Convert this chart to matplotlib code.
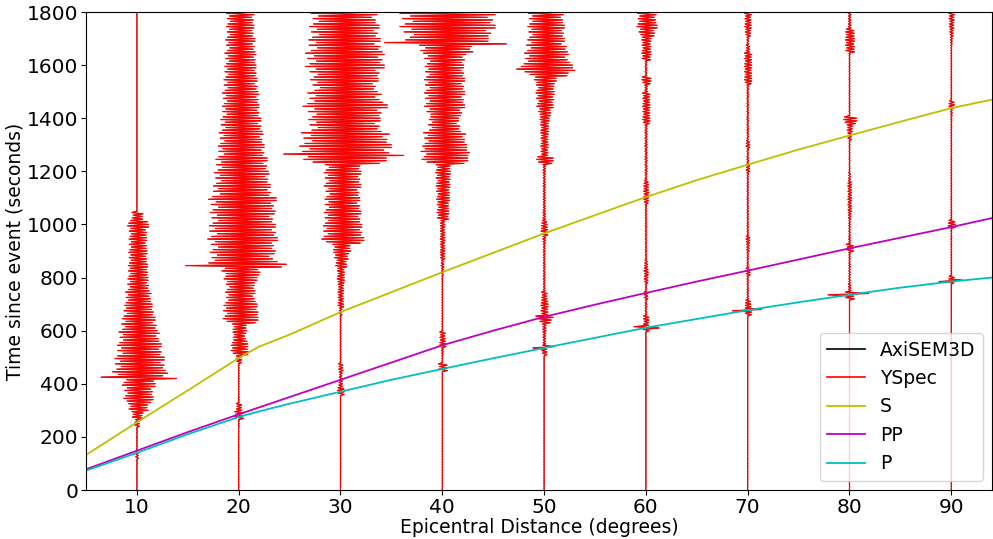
import numpy as np
import matplotlib.pyplot as plt

# station distances (degrees)
distances = [10, 20, 30, 40, 50, 60, 70, 80, 90]

# half-width of each trace (degrees), one value per 30 s window, 0-1800 s
bin_width = 30
env_10 = [0.02, 0.02, 0.02, 0.03, 0.15, 0.05, 0.04, 0.05, 0.25, 0.6,
          1.1, 1.6, 1.6, 1.8, 3.0, 2.8, 2.7, 2.5, 2.4, 2.2,
          2.0, 1.8, 1.7, 1.5, 1.4, 1.2, 1.1, 1.1, 1.05, 1.0,
          1.0, 0.95, 1.0, 1.15, 0.6, 0.02, 0.02, 0.02, 0.02, 0.02,
          0.02, 0.02, 0.02, 0.02, 0.02, 0.02, 0.02, 0.02, 0.02, 0.02,
          0.02, 0.02, 0.02, 0.02, 0.02, 0.02, 0.02, 0.02, 0.02, 0.02]
env_20 = [0.02, 0.02, 0.02, 0.02, 0.02, 0.02, 0.02, 0.02, 0.05, 0.5,
          0.3, 0.05, 0.04, 0.04, 0.05, 0.05, 0.3, 1.0, 0.9, 0.7,
          0.8, 1.9, 2.0, 1.8, 1.6, 1.6, 1.8, 2.2, 4.2, 3.5,
          3.6, 3.8, 3.8, 3.6, 3.5, 3.6, 3.7, 3.3, 3.1, 3.0,
          2.9, 2.8, 2.6, 2.5, 2.4, 2.3, 2.2, 2.1, 2.0, 2.0,
          1.9, 1.8, 1.8, 1.7, 1.7, 1.6, 1.6, 1.5, 1.5, 1.5]
env_30 = [0.02, 0.02, 0.02, 0.02, 0.02, 0.02, 0.02, 0.02, 0.02, 0.02,
          0.02, 0.02, 0.4, 0.2, 0.15, 0.25, 0.05, 0.05, 0.05, 0.05,
          0.05, 0.05, 0.15, 0.3, 0.3, 0.3, 0.4, 0.4, 0.6, 0.8,
          1.0, 2.3, 2.2, 2.1, 2.0, 2.0, 1.9, 1.9, 2.0, 2.0,
          2.0, 4.5, 5.0, 5.0, 4.8, 4.0, 3.9, 4.2, 4.6, 4.0,
          3.6, 3.7, 4.0, 4.3, 4.3, 4.1, 3.9, 3.8, 3.8, 3.6]
env_40 = [0.02, 0.02, 0.02, 0.02, 0.02, 0.02, 0.02, 0.02, 0.02, 0.02,
          0.02, 0.02, 0.02, 0.02, 0.02, 0.5, 0.05, 0.1, 0.35, 0.3,
          0.05, 0.04, 0.04, 0.04, 0.04, 0.04, 0.04, 0.1, 0.15, 0.25,
          0.25, 0.25, 0.25, 0.25, 0.65, 0.65, 0.7, 0.75, 0.75, 0.8,
          0.8, 2.5, 2.8, 2.4, 2.3, 1.8, 1.6, 2.0, 2.2, 2.2,
          2.2, 2.2, 2.2, 2.1, 2.3, 3.0, 4.5, 5.0, 5.2, 5.2]
env_50 = [0.02, 0.02, 0.02, 0.02, 0.02, 0.02, 0.02, 0.02, 0.02, 0.02,
          0.02, 0.02, 0.02, 0.02, 0.02, 0.02, 0.02, 0.3, 0.15, 0.15,
          0.2, 0.7, 0.4, 0.4, 0.3, 0.1, 0.1, 0.1, 0.1, 0.1,
          0.1, 0.15, 0.4, 0.3, 0.15, 0.12, 0.12, 0.12, 0.12, 0.12,
          0.15, 0.9, 0.4, 0.4, 0.4, 0.45, 0.5, 0.7, 0.9, 1.0,
          1.0, 1.2, 2.5, 2.8, 2.4, 2.3, 2.0, 2.0, 2.0, 1.9]
env_60 = [0.02, 0.02, 0.02, 0.02, 0.02, 0.02, 0.02, 0.02, 0.02, 0.02,
          0.02, 0.02, 0.02, 0.02, 0.02, 0.02, 0.02, 0.02, 0.02, 0.02,
          0.3, 0.3, 0.1, 0.1, 0.2, 0.08, 0.2, 0.25, 0.15, 0.08,
          0.08, 0.08, 0.08, 0.08, 0.08, 0.08, 0.25, 0.3, 0.25, 0.1,
          0.12, 0.12, 0.12, 0.12, 0.12, 0.12, 0.4, 0.4, 0.4, 0.4,
          0.15, 0.5, 0.1, 0.1, 0.5, 0.5, 0.5, 0.9, 1.1, 1.0]
env_70 = [0.02, 0.02, 0.02, 0.02, 0.02, 0.02, 0.02, 0.02, 0.02, 0.02,
          0.02, 0.02, 0.02, 0.02, 0.02, 0.02, 0.02, 0.02, 0.02, 0.02,
          0.02, 0.02, 0.4, 0.3, 0.08, 0.08, 0.08, 0.25, 0.08, 0.08,
          0.15, 0.2, 0.08, 0.08, 0.08, 0.08, 0.08, 0.08, 0.08, 0.08,
          0.2, 0.1, 0.08, 0.2, 0.08, 0.1, 0.1, 0.1, 0.1, 0.1,
          0.1, 0.4, 0.4, 0.4, 0.4, 0.2, 0.1, 0.3, 0.35, 0.35]
env_80 = [0.02, 0.02, 0.02, 0.02, 0.02, 0.02, 0.02, 0.02, 0.02, 0.02,
          0.02, 0.02, 0.02, 0.02, 0.02, 0.02, 0.02, 0.02, 0.02, 0.02,
          0.02, 0.02, 0.02, 0.02, 0.5, 0.15, 0.08, 0.08, 0.08, 0.08,
          0.4, 0.1, 0.08, 0.08, 0.15, 0.2, 0.2, 0.2, 0.2, 0.1,
          0.05, 0.05, 0.05, 0.05, 0.2, 0.3, 0.7, 0.05, 0.05, 0.05,
          0.05, 0.05, 0.05, 0.05, 0.05, 0.5, 0.5, 0.5, 0.15, 0.15]
env_90 = [0.02, 0.02, 0.02, 0.02, 0.02, 0.02, 0.02, 0.02, 0.02, 0.02,
          0.02, 0.02, 0.02, 0.02, 0.02, 0.02, 0.02, 0.02, 0.02, 0.02,
          0.02, 0.02, 0.02, 0.02, 0.02, 0.02, 0.3, 0.05, 0.05, 0.05,
          0.05, 0.05, 0.05, 0.4, 0.05, 0.05, 0.05, 0.05, 0.05, 0.05,
          0.05, 0.05, 0.05, 0.05, 0.05, 0.05, 0.05, 0.1, 0.3, 0.05,
          0.05, 0.05, 0.05, 0.05, 0.05, 0.05, 0.1, 0.2, 0.25, 0.3]
envelopes = [env_10, env_20, env_30, env_40, env_50, env_60, env_70, env_80, env_90]

# single large swings (time s, half-width deg)
spikes = [[(420, 3.9)],
          [(847, 5.2)],
          [(1262, 6.2)],
          [(1680, 6.3)],
          [(537, 1.1), (652, 0.9), (1582, 3.0)],
          [(612, 1.3)],
          [(677, 1.5)],
          [(735, 2.1)],
          [(785, 1.2)]]

# travel time curves
curve_dist = [5, 10, 15, 20, 22, 25, 30, 35, 40, 45, 50, 55, 60, 65, 70, 75, 80, 85, 90, 94]
s_time = [132, 255, 375, 497, 540, 585, 670, 745, 820, 893, 966, 1035, 1103, 1167, 1225,
          1282, 1335, 1387, 1438, 1470]
pp_time = [78, 148, 218, 285, 311, 350, 415, 480, 545, 600, 652, 698, 742, 785, 826,
           868, 910, 950, 990, 1024]
p_time = [73, 140, 210, 275, 296, 325, 370, 415, 456, 496, 535, 573, 611, 644, 677,
          707, 735, 762, 785, 800]

# wiggle drawing: one swing every `step` seconds, with a fixed uneven swing pattern
step = 5
swing = np.array([1.0, 0.7, 0.9, 0.55, 0.95, 0.75, 0.85, 0.6, 1.0, 0.8])

t = np.arange(0, 1800 + step, step)
sign = np.where(np.arange(len(t)) % 2 == 0, 1.0, -1.0)
pattern = np.resize(swing, len(t))

fig = plt.figure(figsize=(9.93, 5.39), dpi=100)
ax = fig.add_axes([86 / 993, 49 / 539, 906 / 993, 478 / 539])

for i, (d, env, sp) in enumerate(zip(distances, envelopes, spikes)):
    idx = np.minimum((t // bin_width).astype(int), len(env) - 1)
    amp = np.array(env)[idx] * pattern
    for tt, a in sp:
        k = int(round(tt / step))
        amp[k] = a
        amp[k + 1] = a * 0.9
    x = d + sign * amp
    ax.plot(x, t, color='k', lw=0.5, label='AxiSEM3D' if i == 0 else None)
    ax.plot(x, t, color='r', lw=0.9, label='YSpec' if i == 0 else None)

ax.plot(curve_dist, s_time, color='y', lw=1.3, label='S')
ax.plot(curve_dist, pp_time, color='m', lw=1.3, label='PP')
ax.plot(curve_dist, p_time, color='c', lw=1.3, label='P')

ax.set_xlim(5, 94)
ax.set_ylim(0, 1800)
ax.set_xticks(distances)
ax.set_yticks(np.arange(0, 1801, 200))
ax.tick_params(labelsize=14.5, pad=2)
ax.set_xlabel('Epicentral Distance (degrees)', fontsize=13.5, labelpad=1)
ax.set_ylabel('Time since event (seconds)', fontsize=13.5, labelpad=2)
leg = ax.legend(loc='lower right', fontsize=13.5)
for h in leg.legend_handles[:2]:
    h.set_linewidth(1.2)

fig.savefig('out.png', dpi=100)
